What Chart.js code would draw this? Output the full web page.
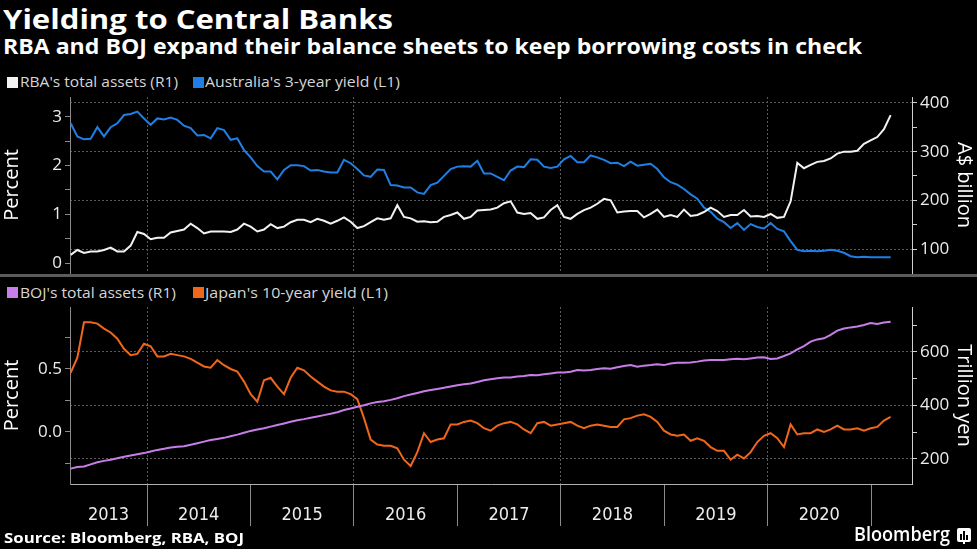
<!DOCTYPE html>
<html>
<head>
<meta charset="utf-8">
<script src="https://cdn.jsdelivr.net/npm/chart.js@4/dist/chart.umd.min.js"></script>
<style>
html,body{margin:0;padding:0;background:#000;width:977px;height:549px;overflow:hidden;}
#wrap{position:relative;width:977px;height:549px;background:#000;font-family:'Open Sans',sans-serif;}
canvas{position:absolute;left:0;top:0;}
.txt{position:absolute;white-space:nowrap;line-height:1;transform-origin:0 0;}
#title{left:3px;top:6px;font-size:26px;font-weight:700;color:#fff;}
#subtitle{left:3px;top:36px;font-size:21px;font-weight:700;color:#fff;}
.leg{position:absolute;color:#d6d6d6;font-size:14.5px;white-space:nowrap;line-height:1;transform-origin:0 0;}
.sq{position:absolute;width:11px;height:11px;}
#sep{position:absolute;left:0;top:274px;width:977px;height:3px;background:#5c5c5c;}
#source{left:4px;top:531px;font-size:14px;font-weight:700;color:#fff;}
#brand{left:854px;top:525px;font-size:19px;font-weight:600;color:#fff;}
#logo{position:absolute;left:957px;top:528px;}
</style>
</head>
<body>
<div id="wrap">
  <div id="title" class="txt">Yielding to Central Banks</div>
  <div id="subtitle" class="txt">RBA and BOJ expand their balance sheets to keep borrowing costs in check</div>
  <div id="legends"></div>
  <canvas id="c1" width="977" height="549"></canvas>
  <canvas id="c2" width="977" height="549"></canvas>
  <div id="sep"></div>
  <div id="source" class="txt">Source: Bloomberg, RBA, BOJ</div>
  <div id="brand" class="txt">Bloomberg</div>
  <svg id="logo" width="14" height="16" viewBox="0 0 14 16">
    <rect x="0" y="0" width="14" height="14" rx="2" fill="#fff"/>
    <rect x="3" y="6" width="2" height="6" fill="#000"/>
    <rect x="6" y="3" width="2" height="9" fill="#000"/>
    <rect x="9" y="7" width="2" height="5" fill="#000"/>
    <rect x="6" y="14" width="2" height="2" fill="#fff"/>
  </svg>
</div>
<script>
// ---------------- data ----------------
// sampling: first observation and spacing (decimal years)
const START_YEAR = 2013.262;
const STEP_YEARS = 0.06445;

const seriesNames = ["RBA's total assets (R1)", "Australia's 3-year yield (L1)", "BOJ's total assets (R1)", "Japan's 10-year yield (L1)"];

// RBA total assets, A$ billion
const rbaAssets = [
  88, 98, 92, 95, 95, 98, 103, 95, 95, 107,
  135, 131, 120, 123, 123, 134, 137, 140, 152, 143,
  132, 136, 136, 136, 135, 140, 152, 146, 136, 140,
  151, 143, 146, 155, 160, 160, 155, 162, 158, 152,
  158, 165, 156, 143, 147, 155, 163, 160, 163, 190,
  166, 163, 156, 157, 155, 156, 166, 170, 175, 162,
  166, 179, 180, 181, 185, 194, 198, 175, 172, 174,
  162, 165, 180, 190, 166, 162, 172, 180, 185, 193,
  203, 200, 175, 177, 178, 178, 165, 172, 181, 166,
  170, 166, 181, 168, 170, 176, 185, 178, 166, 170,
  170, 180, 167, 168, 166, 172, 164, 166, 198, 277,
  266, 273, 279, 281, 286, 296, 300, 300, 302, 316,
  323, 330, 346, 375
];

// Australia 3-year yield, percent
const ausYield = [
  2.87, 2.60, 2.54, 2.55, 2.79, 2.60, 2.79, 2.87, 3.04, 3.06,
  3.11, 2.97, 2.84, 2.97, 2.95, 2.99, 2.94, 2.82, 2.77, 2.62,
  2.63, 2.56, 2.77, 2.73, 2.53, 2.56, 2.32, 2.17, 1.99, 1.88,
  1.88, 1.72, 1.91, 2.01, 2.01, 1.99, 1.90, 1.91, 1.88, 1.86,
  1.86, 2.12, 2.05, 1.93, 1.80, 1.77, 1.92, 1.91, 1.60, 1.59,
  1.55, 1.55, 1.45, 1.42, 1.60, 1.65, 1.79, 1.93, 1.98, 1.99,
  1.98, 2.10, 1.84, 1.84, 1.77, 1.70, 1.90, 1.98, 1.97, 2.13,
  2.12, 1.98, 1.95, 1.98, 2.13, 2.20, 2.07, 2.07, 2.21, 2.17,
  2.12, 2.05, 2.06, 1.99, 2.08, 2.00, 2.02, 2.04, 1.93, 1.76,
  1.66, 1.61, 1.52, 1.41, 1.32, 1.14, 1.05, 0.91, 0.84, 0.72,
  0.82, 0.68, 0.80, 0.74, 0.71, 0.82, 0.70, 0.65, 0.45, 0.27,
  0.24, 0.25, 0.24, 0.25, 0.27, 0.25, 0.21, 0.14, 0.12, 0.13,
  0.12, 0.12, 0.12, 0.12
];

// BOJ total assets, trillion yen
const bojAssets = [
  164, 170, 172, 180, 188, 193, 197, 203, 208, 213,
  218, 222, 228, 234, 238, 243, 246, 248, 253, 259,
  265, 271, 275, 279, 285, 291, 298, 305, 310, 315,
  321, 327, 333, 339, 345, 349, 354, 359, 364, 369,
  375, 383, 389, 395, 401, 408, 413, 416, 421, 427,
  435, 441, 447, 453, 458, 462, 466, 471, 476, 479,
  482, 488, 494, 498, 502, 505, 505, 508, 510, 514,
  513, 517, 520, 523, 523, 526, 533, 531, 533, 536,
  539, 537, 543, 548, 551, 545, 549, 551, 554, 551,
  557, 560, 560, 561, 564, 568, 570, 570, 570, 573,
  575, 573, 576, 579, 580, 574, 576, 585, 595, 610,
  622, 639, 647, 651, 664, 680, 688, 692, 695, 701,
  708, 705, 710, 713
];

// Japan 10-year yield, percent
const jpnYield = [
  0.47, 0.59, 0.87, 0.87, 0.86, 0.82, 0.79, 0.74, 0.66, 0.61,
  0.62, 0.70, 0.68, 0.60, 0.60, 0.62, 0.61, 0.60, 0.58, 0.55,
  0.52, 0.51, 0.57, 0.53, 0.50, 0.48, 0.40, 0.30, 0.24, 0.41,
  0.43, 0.36, 0.30, 0.43, 0.51, 0.49, 0.44, 0.40, 0.36, 0.33,
  0.32, 0.32, 0.30, 0.26, 0.11, -0.06, -0.10, -0.11, -0.11, -0.13,
  -0.22, -0.27, -0.16, -0.01, -0.08, -0.06, -0.05, 0.06, 0.06, 0.08,
  0.09, 0.07, 0.03, 0.01, 0.05, 0.07, 0.08, 0.06, 0.02, -0.01,
  0.07, 0.08, 0.05, 0.06, 0.07, 0.08, 0.05, 0.03, 0.05, 0.06,
  0.05, 0.04, 0.04, 0.10, 0.11, 0.13, 0.14, 0.12, 0.08, 0.01,
  -0.02, -0.03, -0.02, -0.07, -0.05, -0.07, -0.12, -0.15, -0.15, -0.22,
  -0.18, -0.21, -0.16, -0.08, -0.03, -0.01, -0.05, -0.12, 0.06, -0.02,
  -0.01, -0.01, 0.02, 0.00, 0.02, 0.05, 0.02, 0.02, 0.03, 0.01,
  0.03, 0.04, 0.09, 0.12
];

// axis ranges and ticks
const X_MIN = 2013.2555, X_MAX = 2021.396;
const yearLabels = ['2013','2014','2015','2016','2017','2018','2019','2020'];
const yearBoundaries = [2014, 2015, 2016, 2017, 2018, 2019, 2020, 2021];
const gridYears = [2014, 2016, 2018, 2020];

const topLeftTicks = [0, 0.5, 1, 1.5, 2, 2.5, 3];
const topLeftLabels = [0, 1, 2, 3];
const topRightTicks = [100, 150, 200, 250, 300, 350, 400];
const topRightLabels = [100, 200, 300, 400];
const botLeftTicks = [-0.25, 0, 0.25, 0.5, 0.75];
const botLeftLabels = [0, 0.5];
const botRightTicks = [200, 300, 400, 500, 600, 700];
const botRightLabels = [200, 400, 600];

const colors = {rba:'#f2f2f2', aus:'#1f7fe4', boj:'#c77ee8', jpn:'#f0661a'};

// ---------------- helpers ----------------
const FONT = "'Open Sans', sans-serif";
const NARROW = "'Liberation Sans Narrow', 'Arial Narrow', 'DejaVu Sans Condensed', 'Roboto', sans-serif";
const GRID = '#5a5a5a';
const pts = arr => arr.map((v, i) => ({x: START_YEAR + i * STEP_YEARS, y: v}));
const has = (arr, v) => arr.some(a => Math.abs(a - v) < 1e-9);
const setTicks = list => s => { s.ticks = list.map(v => ({value: v})); };

function yAxis(opts) {
  return {
    type: 'linear', position: opts.position, min: opts.min, max: opts.max,
    afterBuildTicks: setTicks(opts.ticks),
    afterFit: s => { s.width = opts.width; },
    ticks: {
      autoSkip: false, padding: 3, color: '#ececec', font: {family: FONT, size: 17},
      callback: v => has(opts.labels, v) ? opts.fmt(v) : ''
    },
    grid: {
      drawOnChartArea: opts.gridOn, tickLength: 5, tickColor: opts.borderColor, lineWidth: 1,
      color: ctx => (ctx.tick && has(opts.labels, ctx.tick.value)) ? GRID : 'rgba(0,0,0,0)'
    },
    border: {display: true, color: opts.borderColor, width: 1, dash: [2, 2]},
    title: {display: true, text: opts.title, color: '#ffffff', font: {family: FONT, size: 20}, padding: {top: opts.titlePad, bottom: 0}}
  };
}

const baseOpts = {
  responsive: false, animation: false, events: [],
  plugins: {legend: {display: false}, tooltip: {enabled: false}},
  elements: {point: {radius: 0}, line: {tension: 0}}
};

// ---------------- top chart ----------------
new Chart(document.getElementById('c1'), {
  type: 'line',
  data: {datasets: [
    {label: seriesNames[0], data: pts(rbaAssets), yAxisID: 'yR', borderColor: colors.rba, borderWidth: 2},
    {label: seriesNames[1], data: pts(ausYield), yAxisID: 'yL', borderColor: colors.aus, borderWidth: 2}
  ]},
  options: Object.assign({}, baseOpts, {
    layout: {padding: {top: 97, bottom: 276, left: 0, right: 0}},
    scales: {
      x: {
        type: 'linear', position: 'bottom', min: X_MIN, max: X_MAX,
        afterBuildTicks: setTicks(gridYears),
        afterFit: s => { s.height = 0; },
        ticks: {display: false},
        grid: {drawTicks: false, color: GRID, lineWidth: 1},
        border: {display: false, dash: [2, 2]}
      },
      yL: yAxis({position: 'left', min: -0.205, max: 3.41, ticks: topLeftTicks, labels: topLeftLabels,
                 fmt: v => String(v), width: 70, gridOn: false, borderColor: '#8a8a8a', title: 'Percent', titlePad: 0}),
      yR: yAxis({position: 'right', min: 50.7, max: 412.3, ticks: topRightTicks, labels: topRightLabels,
                 fmt: v => String(v), width: 65, gridOn: true, borderColor: '#cfcfcf', title: 'A$ billion', titlePad: 1})
    }
  })
});

// ---------------- bottom chart ----------------
const labelTicks = yearLabels.map(y => {
  const a = Math.max(+y, X_MIN), b = Math.min(+y + 1, X_MAX);
  return {value: (a + b) / 2, text: y};
});
const xTicks = yearBoundaries.concat(labelTicks.map(t => t.value)).sort((a, b) => a - b);

new Chart(document.getElementById('c2'), {
  type: 'line',
  data: {datasets: [
    {label: seriesNames[2], data: pts(bojAssets), yAxisID: 'yR', borderColor: colors.boj, borderWidth: 2},
    {label: seriesNames[3], data: pts(jpnYield), yAxisID: 'yL', borderColor: colors.jpn, borderWidth: 2}
  ]},
  options: Object.assign({}, baseOpts, {
    layout: {padding: {top: 307, bottom: 23, left: 0, right: 0}},
    scales: {
      x: {
        type: 'linear', position: 'bottom', min: X_MIN, max: X_MAX,
        afterBuildTicks: setTicks(xTicks),
        afterFit: s => { s.height = 42; },
        ticks: {
          autoSkip: false, maxRotation: 0, minRotation: 0, padding: -21, color: '#ececec',
          font: {family: NARROW, size: 18},
          callback: v => { const t = labelTicks.find(l => Math.abs(l.value - v) < 1e-9); return t ? t.text : ''; }
        },
        grid: {
          drawTicks: true, tickLength: 42, lineWidth: 1,
          color: ctx => (ctx.tick && has(gridYears, ctx.tick.value)) ? GRID : 'rgba(0,0,0,0)',
          tickColor: ctx => (ctx.tick && has(yearBoundaries, ctx.tick.value)) ? '#8a8a8a' : 'rgba(0,0,0,0)'
        },
        border: {display: true, color: '#b0b0b0', width: 1, dash: [2, 2]}
      },
      yL: yAxis({position: 'left', min: -0.413, max: 0.992, ticks: botLeftTicks, labels: botLeftLabels,
                 fmt: v => v.toFixed(1), width: 70, gridOn: false, borderColor: '#8a8a8a', title: 'Percent', titlePad: 0}),
      yR: yAxis({position: 'right', min: 106.5, max: 768.2, ticks: botRightTicks, labels: botRightLabels,
                 fmt: v => String(v), width: 65, gridOn: true, borderColor: '#cfcfcf', title: 'Trillion yen', titlePad: 1})
    }
  })
});

// ---------------- legends (HTML) ----------------
const legendSpec = [
  {name: seriesNames[0], color: colors.rba, sqX: 7, sqY: 77, tx: 20, ty: 74.5, w: 158},
  {name: seriesNames[1], color: colors.aus, sqX: 193, sqY: 77, tx: 205, ty: 74.5, w: 195},
  {name: seriesNames[2], color: colors.boj, sqX: 7, sqY: 287, tx: 20, ty: 285.5, w: 156},
  {name: seriesNames[3], color: colors.jpn, sqX: 193, sqY: 287, tx: 205, ty: 285.5, w: 183}
];
const legHost = document.getElementById('legends');
legendSpec.forEach(l => {
  const sq = document.createElement('div');
  sq.className = 'sq'; sq.style.left = l.sqX + 'px'; sq.style.top = l.sqY + 'px'; sq.style.background = l.color;
  legHost.appendChild(sq);
  const t = document.createElement('div');
  t.className = 'leg'; t.textContent = l.name; t.style.left = l.tx + 'px'; t.style.top = l.ty + 'px';
  t.dataset.w = l.w;
  legHost.appendChild(t);
});

function fitWidth(el, w) {
  const cur = el.getBoundingClientRect().width;
  if (cur > 0) el.style.transform = 'scaleX(' + (w / cur) + ')';
}
fitWidth(document.getElementById('title'), 390);
fitWidth(document.getElementById('subtitle'), 859);
fitWidth(document.getElementById('source'), 240);
fitWidth(document.getElementById('brand'), 96);
document.querySelectorAll('.leg').forEach(el => fitWidth(el, +el.dataset.w));
</script>
</body>
</html>
